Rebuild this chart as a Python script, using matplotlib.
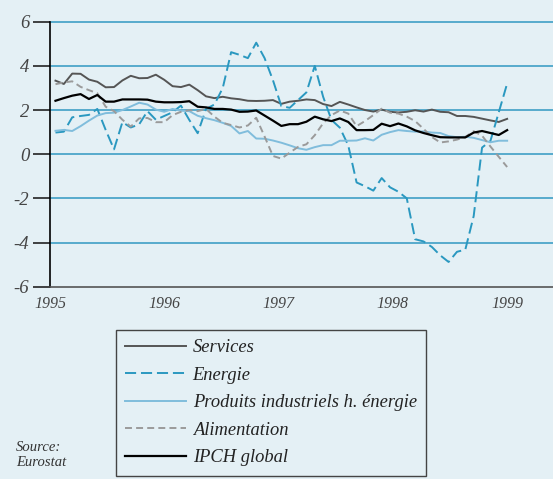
import numpy as np
import matplotlib
matplotlib.use("Agg")
import matplotlib.pyplot as plt

# monthly points, early 1995 to early 1999
n_points = 55
x = np.linspace(1995.048, 1999.0, n_points)

services = [3.33, 3.18, 3.65, 3.64, 3.38, 3.28, 3.03, 3.04, 3.34, 3.55,
            3.44, 3.45, 3.60, 3.37, 3.08, 3.04, 3.15, 2.90, 2.62, 2.54,
            2.60, 2.53, 2.49, 2.42, 2.41, 2.42, 2.45, 2.28, 2.38, 2.42,
            2.48, 2.45, 2.27, 2.18, 2.37, 2.25, 2.12, 2.00, 1.93, 2.02,
            1.92, 1.89, 1.92, 1.99, 1.93, 2.02, 1.92, 1.90, 1.73, 1.73,
            1.69, 1.61, 1.53, 1.46, 1.60]

energie = [0.98, 1.02, 1.67, 1.73, 1.78, 2.05, 1.10, 0.22, 1.45, 1.21,
           1.35, 1.95, 1.56, 1.73, 1.90, 2.20, 1.55, 0.95, 2.05, 2.25,
           3.00, 4.62, 4.50, 4.35, 5.05, 4.35, 3.35, 2.18, 2.10, 2.45,
           2.80, 4.00, 2.60, 1.55, 1.20, 0.40, -1.28, -1.45, -1.65, -1.08,
           -1.50, -1.70, -2.00, -3.85, -3.95, -4.20, -4.58, -4.88, -4.42, -4.32,
           -2.80, 0.30, 0.60, 1.90, 3.20]

produits = [1.06, 1.10, 1.05, 1.27, 1.52, 1.75, 1.86, 1.88, 2.00, 2.16,
            2.33, 2.25, 2.02, 1.92, 2.05, 1.97, 1.95, 1.74, 1.63, 1.54,
            1.42, 1.28, 0.94, 1.05, 0.71, 0.70, 0.62, 0.52, 0.40, 0.27,
            0.20, 0.32, 0.41, 0.41, 0.61, 0.61, 0.62, 0.72, 0.62, 0.88,
            1.00, 1.09, 1.05, 1.02, 1.03, 0.98, 0.96, 0.82, 0.77, 0.79,
            0.74, 0.64, 0.54, 0.61, 0.61]

alimentation = [3.17, 3.25, 3.30, 3.05, 2.90, 2.76, 2.15, 1.95, 1.56, 1.25,
                1.62, 1.64, 1.45, 1.45, 1.77, 1.92, 2.00, 1.95, 2.05, 1.70,
                1.42, 1.32, 1.21, 1.30, 1.65, 0.80, -0.08, -0.20, 0.07, 0.33,
                0.45, 0.86, 1.40, 1.77, 1.98, 1.84, 1.27, 1.50, 1.77, 2.06,
                1.88, 1.84, 1.70, 1.50, 1.15, 0.78, 0.53, 0.58, 0.66, 0.78,
                1.04, 0.84, 0.35, -0.12, -0.58]

ipch = [2.42, 2.54, 2.65, 2.72, 2.50, 2.68, 2.38, 2.38, 2.48, 2.48,
        2.48, 2.47, 2.38, 2.35, 2.35, 2.36, 2.40, 2.15, 2.12, 2.05,
        2.05, 2.02, 1.92, 1.93, 1.98, 1.75, 1.52, 1.28, 1.36, 1.36,
        1.47, 1.70, 1.58, 1.50, 1.62, 1.46, 1.09, 1.09, 1.10, 1.38,
        1.27, 1.39, 1.26, 1.08, 0.96, 0.86, 0.77, 0.76, 0.76, 0.76,
        0.98, 1.05, 0.96, 0.87, 1.09]

y_ticks = [6, 4, 2, 0, -2, -4, -6]
y_labels = ["6", "4", "2", "0", "-2", "-4", "-6"]
x_ticks = [1995, 1996, 1997, 1998, 1999]
x_labels = ["1995", "1996", "1997", "1998", "1999"]

bg = "#e4f0f5"
grid_col = "#3f9fc6"
serif = ["Liberation Serif", "DejaVu Serif"]

plt.rcParams["lines.scale_dashes"] = False

fig = plt.figure(figsize=(5.53, 4.79), dpi=100, facecolor=bg)
ax = fig.add_axes([50 / 553, 1 - 286.7 / 479, 1 - 50 / 553, (286.7 - 21.7) / 479])
ax.set_facecolor(bg)

ax.plot(x, services, color="#555555", lw=1.4, label="Services")
ax.plot(x, energie, color="#2a98c0", lw=1.4, linestyle=(0, (8, 3.5)), label="Energie")
ax.plot(x, produits, color="#80bddc", lw=1.4, label="Produits industriels h. énergie")
ax.plot(x, alimentation, color="#9a9a9a", lw=1.4, linestyle=(0, (5, 3)), label="Alimentation")
ax.plot(x, ipch, color="black", lw=1.6, label="IPCH global")

ax.set_ylim(-6, 6)
ax.set_xlim(1995, 1995 + (553 - 49.5) / 114.4)
for v in y_ticks[:-1]:
    ax.axhline(v, color=grid_col, lw=1.2, zorder=0, clip_on=False)

ax.set_yticks(y_ticks)
ax.set_yticklabels(y_labels, family=serif, style="italic", fontsize=13.5, color="#444444")
ax.set_xticks(x_ticks)
ax.set_xticklabels(x_labels, family=serif, style="italic", fontsize=11.5, color="#444444")
ax.tick_params(axis="y", length=12, width=1.2, color="#222222", pad=3)
ax.tick_params(axis="x", length=0, pad=7)

for s in ["top", "right"]:
    ax.spines[s].set_visible(False)
ax.spines["left"].set_color("black")
ax.spines["left"].set_linewidth(1.2)
ax.spines["bottom"].set_color("#555555")
ax.spines["bottom"].set_linewidth(1.2)

leg = fig.legend(loc="upper left", bbox_to_anchor=(116 / 553, 1 - 330 / 479),
                 borderaxespad=0, frameon=True, fancybox=False,
                 edgecolor="#444444", facecolor=bg, framealpha=1,
                 handlelength=3.3, handletextpad=0.35,
                 labelspacing=0.57, borderpad=0.5,
                 prop={"family": serif, "style": "italic", "size": 13.3})
leg.get_frame().set_linewidth(1.0)
for t in leg.get_texts():
    t.set_color("#222222")

fig.text(16 / 553, 1 - 455 / 479, "Source:\nEurostat", family=serif, style="italic",
         fontsize=10.5, color="#333333", va="center", linespacing=1.15)

fig.savefig("out.png", dpi=100, facecolor=bg)
